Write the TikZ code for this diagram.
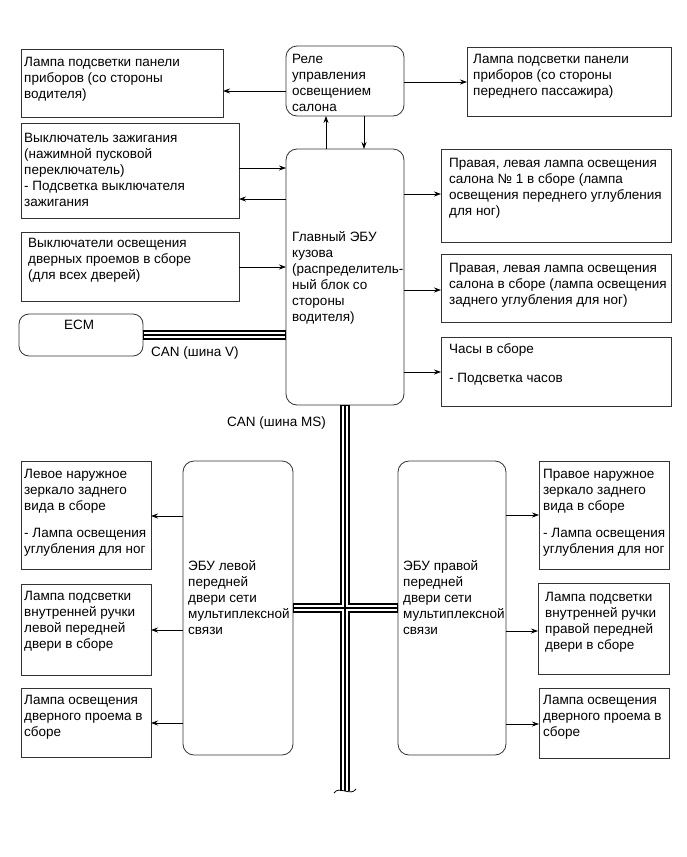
\documentclass[tikz,border=0pt]{standalone}
\usepackage{fontspec}
\setmainfont{Liberation Sans}
\usetikzlibrary{arrows.meta}
\tikzset{
  box/.style={draw=black!80, line width=0.8pt, inner sep=0pt, outer sep=0pt, anchor=north west},
  rbox/.style={box, rounded corners=11pt},
  txt/.style={align=left, inner sep=0pt, anchor=north west, font=\fontsize{13.5}{16}\selectfont},
  arr/.style={line width=0.8pt, -{Stealth[length=7pt,width=5pt]}},
  busA/.style={line width=10pt},
  busB/.style={white, line width=6pt},
  busC/.style={line width=1.6pt}
}
\begin{document}
\begin{tikzpicture}[x=1pt,y=-1pt]
\useasboundingbox[fill=white] (0,0) rectangle (687,857);
% boxes
\node[box, minimum width=202pt, minimum height=68pt] (tl) at (21,49) {};
\node[rbox, minimum width=118pt, minimum height=70pt] (relay) at (286,46) {};
\node[box, minimum width=204pt, minimum height=69pt] (tr) at (467,47) {};
\node[box, minimum width=218pt, minimum height=95pt] (ign) at (21,123) {};
\node[rbox, minimum width=118pt, minimum height=256pt] (main) at (286,149) {};
\node[box, minimum width=230pt, minimum height=93pt] (r1) at (441,149) {};
\node[box, minimum width=230pt, minimum height=68pt] (r2) at (441,254) {};
\node[box, minimum width=230pt, minimum height=69pt] (r3) at (441,337) {};
\node[box, minimum width=218pt, minimum height=69pt] (sw) at (21,232) {};
\node[box, rounded corners=10pt, minimum width=124pt, minimum height=42pt] (ecm) at (19,314) {};
\node[rbox, minimum width=110pt, minimum height=294pt] (ld) at (183,461) {};
\node[rbox, minimum width=108pt, minimum height=294pt] (rd) at (398,461) {};
\node[box, minimum width=130pt, minimum height=108pt] (la) at (21,461) {};
\node[box, minimum width=130pt, minimum height=91pt] (lb) at (21,584) {};
\node[box, minimum width=130pt, minimum height=69pt] (lc) at (21,688) {};
\node[box, minimum width=130pt, minimum height=108pt] (ra) at (539,461) {};
\node[box, minimum width=131pt, minimum height=91pt] (rb) at (538,583) {};
\node[box, minimum width=130pt, minimum height=70pt] (rc) at (539,688) {};
% texts
\node[txt] (tTl) at (24,57) {Лампа подсветки панели\\приборов (со стороны\\водителя)};
\node[txt] (tRelay) at (292,54) {Реле\\управления\\освещением\\салона};
\node[txt] (tTr) at (473,54) {Лампа подсветки панели\\приборов (со стороны\\переднего пассажира)};
\node[txt] (tIgn) at (24,133) {Выключатель зажигания\\(нажимной пусковой\\переключатель)\\- Подсветка выключателя\\зажигания};
\node[txt] (tMain) at (292,231) {Главный ЭБУ\\кузова\\(распределитель-\\ный блок со\\стороны\\водителя)};
\node[txt] (tR1) at (449,158) {Правая, левая лампа освещения\\салона № 1 в сборе (лампа\\освещения переднего углубления\\для ног)};
\node[txt] (tR2) at (449,263) {Правая, левая лампа освещения\\салона в сборе (лампа освещения\\заднего углубления для ног)};
\node[txt] (tR3) at (449,343) {Часы в сборе\\[13pt]- Подсветка часов};
\node[txt] (tSw) at (28,238) {Выключатели освещения\\дверных проемов в сборе\\(для всех дверей)};
\node[inner sep=0pt, font=\fontsize{13.5}{16}\selectfont] (tEcm) at (79,325) {ECM};
\node[txt] (tLd) at (188,560) {ЭБУ левой\\передней\\двери сети\\мультиплексной\\связи};
\node[txt] (tRd) at (403,560) {ЭБУ правой\\передней\\двери сети\\мультиплексной\\связи};
\node[txt] (tLa) at (24,469) {Левое наружное\\зеркало заднего\\вида в сборе\\[10.7pt]- Лампа освещения\\углубления для ног};
\node[txt] (tLb) at (24,591) {Лампа подсветки\\внутренней ручки\\левой передней\\двери в сборе};
\node[txt] (tLc) at (24,695) {Лампа освещения\\дверного проема в\\сборе};
\node[txt] (tRa) at (543,469) {Правое наружное\\зеркало заднего\\вида в сборе\\[10.7pt]- Лампа освещения\\углубления для ног};
\node[txt] (tRb) at (545,592) {Лампа подсветки\\внутренней ручки\\правой передней\\двери в сборе};
\node[txt] (tRc) at (543,695) {Лампа освещения\\дверного проема в\\сборе};
\node[txt] (canV) at (151,347) {CAN (шина V)};
\node[txt, anchor=north east] (canMS) at (326,417) {CAN (шина MS)};
% arrows
\draw[arr] (relay.west |- 0,91) -- (tl.east |- 0,91);
\draw[arr] (relay.east |- 0,82) -- (tr.west |- 0,82);
\draw[arr] (main.north -| 326,0) -- (relay.south -| 326,0);
\draw[arr] (relay.south -| 364,0) -- (main.north -| 364,0);
\draw[arr] (ign.east |- 0,168) -- (main.west |- 0,168);
\draw[arr] (main.west |- 0,199) -- (ign.east |- 0,199);
\draw[arr] (sw.east |- 0,267) -- (main.west |- 0,267);
\draw[arr] (main.east |- 0,194) -- (r1.west |- 0,194);
\draw[arr] (main.east |- 0,290) -- (r2.west |- 0,290);
\draw[arr] (main.east |- 0,372) -- (r3.west |- 0,372);
\draw[arr] (ld.west |- 0,516) -- (la.east |- 0,516);
\draw[arr] (ld.west |- 0,630) -- (lb.east |- 0,630);
\draw[arr] (ld.west |- 0,723) -- (lc.east |- 0,723);
\draw[arr] (rd.east |- 0,515) -- (ra.west |- 0,515);
\draw[arr] (rd.east |- 0,631) -- (rb.west |- 0,631);
\draw[arr] (rd.east |- 0,724) -- (rc.west |- 0,724);
% buses
\coordinate (busEnd) at (345,791);
\foreach \st/\sh in {busA/0pt, busB/0.8pt, busC/0.8pt}{
  \draw[\st, shorten <=\sh, shorten >=\sh] (ecm.east |- 0,335) -- (main.west |- 0,335);
  \draw[\st, shorten <=\sh] (main.south -| busEnd) -- (busEnd);
  \draw[\st, shorten <=\sh, shorten >=\sh] (ld.east |- 0,608) -- (rd.west |- 0,608);
}
\draw[line width=0.8pt] (334,793) .. controls (337,789) and (340,790) .. (345,791) .. controls (350,792) and (353,793) .. (356,789);
\end{tikzpicture}
\end{document}
